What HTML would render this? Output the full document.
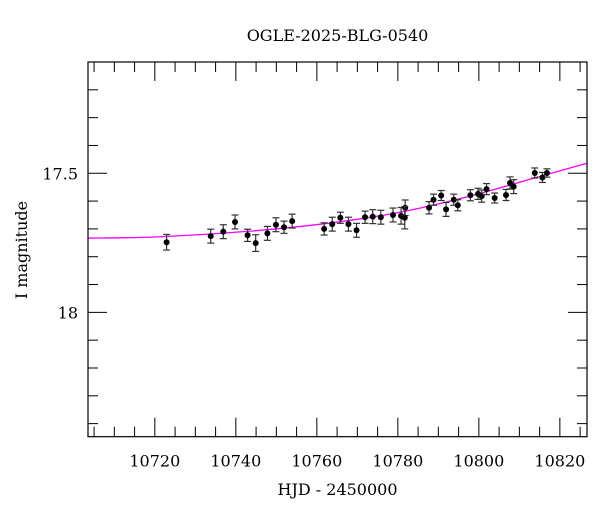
<!DOCTYPE html>
<html><head><meta charset="utf-8"><style>
body{margin:0;background:#fff;}
svg text{font-family:"DejaVu Serif","Liberation Serif",serif;fill:#000;}
</style></head><body>
<svg id="chart" width="600" height="512" viewBox="0 0 600 512" xmlns="http://www.w3.org/2000/svg">
<rect width="600" height="512" fill="#fff"/>
<text x="337.5" y="41" font-size="16" text-anchor="middle">OGLE-2025-BLG-0540</text>
<text x="337.5" y="495" font-size="16" text-anchor="middle">HJD - 2450000</text>
<text transform="translate(27,250) rotate(-90)" font-size="16" text-anchor="middle">I magnitude</text>
<g id="ticks"></g>
<g id="model"></g>
<g id="points"></g>
<rect x="88" y="62" width="499" height="374.7" fill="none" stroke="#000" stroke-width="1.2"/>
</svg>
<script>
const hjd=[10722.9,10733.8,10736.9,10739.8,10742.9,10744.9,10747.8,10749.9,10751.9,10753.9,10761.8,10763.8,10765.8,10767.8,10769.8,10771.9,10773.8,10775.8,10778.8,10780.8,10781.8,10781.7,10787.7,10788.8,10790.7,10791.9,10793.8,10794.8,10797.9,10799.8,10800.7,10801.9,10803.9,10806.7,10807.7,10808.6,10813.8,10815.7,10816.8];
const mag=[17.748,17.726,17.710,17.675,17.723,17.751,17.716,17.685,17.694,17.672,17.700,17.683,17.660,17.683,17.705,17.658,17.656,17.658,17.650,17.653,17.624,17.660,17.624,17.595,17.580,17.630,17.595,17.615,17.579,17.574,17.582,17.557,17.589,17.578,17.535,17.548,17.499,17.515,17.499];
const err=[0.028,0.025,0.025,0.025,0.022,0.030,0.025,0.025,0.022,0.025,0.022,0.025,0.020,0.025,0.025,0.022,0.025,0.025,0.025,0.030,0.028,0.040,0.022,0.020,0.018,0.025,0.020,0.020,0.020,0.020,0.022,0.020,0.018,0.020,0.022,0.025,0.018,0.018,0.015];
const modelHjd=[10703.5,10720,10743.5,10763.2,10780.5,10797.8,10816.3,10826.7];
const modelMag=[17.733,17.729,17.708,17.679,17.640,17.582,17.506,17.464];
const xTickLabels=["10720","10740","10760","10780","10800","10820"];
const yTickLabels=["17.5","18"];

const X0=88,X1=587,Y0=62,Y1=436.7,XMIN=10703.5,XMAX=10826.7,YMIN=17.1,YMAX=18.447;
const sx=v=>X0+(v-XMIN)/(XMAX-XMIN)*(X1-X0);
const sy=v=>Y0+(v-YMIN)/(YMAX-YMIN)*(Y1-Y0);
const NS="http://www.w3.org/2000/svg";
function mk(tag,attrs,parent){const e=document.createElementNS(NS,tag);for(const k in attrs)e.setAttribute(k,attrs[k]);parent.appendChild(e);return e;}
const tg=document.getElementById('ticks');
for(let v=10705;v<=10825;v+=5){
  const x=sx(v),major=(v%20===0);const L=major?19:10;
  const t1=mk('line',{x1:x,x2:x,y1:Y1,y2:Y1-L,stroke:'#000','stroke-width':1},tg);
  
  
  const t2=mk('line',{x1:x,x2:x,y1:Y0,y2:Y0+L,stroke:'#000','stroke-width':1},tg);
  
  
}
xTickLabels.forEach(s=>{
  const t=mk('text',{x:sx(+s),y:Y1+30,'font-size':16,'text-anchor':'middle'},tg);t.textContent=s;
  
  
});
for(let i=2;i<=14;i++){
  const v=17+i*0.1;const y=sy(v);if(y>Y1-1)continue;const major=(i%5===0);const L=major?19:10;
  const t1=mk('line',{x1:X0,x2:X0+L,y1:y,y2:y,stroke:'#000','stroke-width':1},tg);
  
  
  const t2=mk('line',{x1:X1,x2:X1-L,y1:y,y2:y,stroke:'#000','stroke-width':1},tg);
  
  
}
yTickLabels.forEach(s=>{
  const t=mk('text',{x:78,y:sy(+s)+6,'font-size':16,'text-anchor':'end'},tg);t.textContent=s;
  
  
});
const pts=modelHjd.map((h,i)=>[sx(h),sy(modelMag[i])]);
let d='M'+pts[0][0]+','+pts[0][1];
for(let i=0;i<pts.length-1;i++){
  const p0=pts[Math.max(0,i-1)],p1=pts[i],p2=pts[i+1],p3=pts[Math.min(pts.length-1,i+2)];
  const c1=[p1[0]+(p2[0]-p0[0])/6,p1[1]+(p2[1]-p0[1])/6],c2=[p2[0]-(p3[0]-p1[0])/6,p2[1]-(p3[1]-p1[1])/6];
  d+=' C'+c1+' '+c2+' '+p2;
}
const mg=document.getElementById('model');
const ml=mk('path',{d:d,fill:'none',stroke:'#ff00ff','stroke-width':1.3},mg);


const pg=document.getElementById('points');
hjd.forEach((h,i)=>{
  const x=sx(h),y=sy(mag[i]),ya=sy(mag[i]-err[i]),yb=sy(mag[i]+err[i]);
  const g=mk('g',{},pg);
  
  
  mk('line',{x1:x,x2:x,y1:ya,y2:yb,stroke:'#333','stroke-width':1.2},g);
  mk('line',{x1:x-3.5,x2:x+3.5,y1:ya,y2:ya,stroke:'#333','stroke-width':1.2},g);
  mk('line',{x1:x-3.5,x2:x+3.5,y1:yb,y2:yb,stroke:'#333','stroke-width':1.2},g);
  mk('circle',{cx:x,cy:y,r:3,fill:'#000'},g);
});
</script>
</body></html>
